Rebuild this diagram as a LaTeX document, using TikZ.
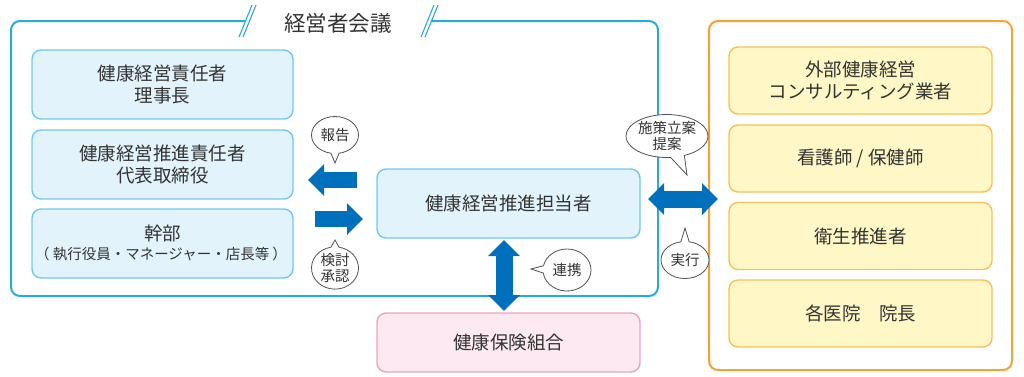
\documentclass[tikz,border=0pt]{standalone}
\usepackage{fontspec}
\setmainfont{Noto Sans CJK JP}
\usetikzlibrary{arrows.meta,shapes.callouts}
\definecolor{frameblue}{RGB}{41,169,225}
\definecolor{boxblue}{RGB}{112,200,240}
\definecolor{fillblue}{RGB}{226,243,252}
\definecolor{frameorange}{RGB}{245,162,52}
\definecolor{boxyellow}{RGB}{248,192,84}
\definecolor{fillyellow}{RGB}{255,248,198}
\definecolor{boxpink}{RGB}{236,164,188}
\definecolor{fillpink}{RGB}{252,233,241}
\definecolor{arrowblue}{RGB}{0,112,188}
\definecolor{txt}{RGB}{51,51,51}
\tikzset{
  bigtext/.style={font=\fontsize{18.5}{22}\selectfont, text=txt, align=center},
  bluebox/.style={bigtext, draw=boxblue, fill=fillblue, line width=1.4pt, rounded corners=9pt, minimum width=261pt, minimum height=69pt, inner sep=0pt},
  yellowbox/.style={bigtext, draw=boxyellow, fill=fillyellow, line width=1.4pt, rounded corners=9pt, minimum width=263pt, minimum height=67pt, inner sep=0pt},
  pinkbox/.style={bigtext, draw=boxpink, fill=fillpink, line width=1.4pt, rounded corners=9pt, minimum width=263pt, minimum height=59pt, inner sep=0pt},
  bubble/.style={ellipse callout, draw=txt!85, fill=white, line width=0.8pt, text=txt, align=center, inner sep=0pt, font=\fontsize{14.5}{16.5}\selectfont, callout pointer arc=20},
  fatarrow/.style={draw=arrowblue, line width=16pt, -{Triangle[length=16pt,width=31pt]}},
  fatdouble/.style={draw=arrowblue, line width=17pt, {Triangle[length=16pt,width=31pt]}-{Triangle[length=16pt,width=31pt]}},
  frame/.style={line width=2pt, rounded corners=9pt},
  slash/.style={draw=frameblue, line width=1.1pt}
}
\begin{document}
\begin{tikzpicture}[x=1pt,y=-1pt]
\useasboundingbox (0,0) rectangle (1024,376);
% blue frame
\draw[frame, draw=frameblue] (245,21) -- (11,21) -- (11,296) -- (658,296) -- (658,21) -- (431,21);
\draw[slash] (239,37) -- (252,5);
\draw[slash] (243,37) -- (256,5);
\draw[slash] (421,37) -- (434,5);
\draw[slash] (425,37) -- (438,5);
\node[font=\fontsize{21.5}{24}\selectfont, text=txt] (title) at (338,23) {経営者会議};
% orange frame
\draw[frame, draw=frameorange] (709,21) rectangle (1012,370);
% left boxes
\node[bluebox] (b1) at (162.5,84.5) {健康経営責任者\\理事長};
\node[bluebox] (b2) at (162.5,164.5) {健康経営推進責任者\\代表取締役};
\node[bluebox] (b3) at (162.5,243.5) {};
\node[bigtext] (b3a) at (162.5,233) {幹部};
\node[font=\fontsize{14.5}{16}\selectfont, text=txt] (b3b) at (161,254) {（ 執行役員・マネージャー・店長等 ）};
% center boxes
\node[bluebox, minimum width=263pt] (c) at (508.5,203.5) {健康経営推進担当者};
\node[pinkbox] (p) at (508.5,342.5) {健康保険組合};
% right boxes
\node[yellowbox] (r1) at (860.5,80.5) {外部健康経営\\コンサルティング業者};
\node[yellowbox] (r2) at (860.5,158.5) {看護師 / 保健師};
\node[yellowbox] (r3) at (860.5,236) {衛生推進者};
\node[yellowbox] (r4) at (860.5,313.5) {各医院　院長};
% arrows
\coordinate (la1) at (357,180);
\coordinate (la2) at (308,180);
\coordinate (ra1) at (315,219);
\coordinate (ra2) at (363,219);
\coordinate (ha1) at (648,199);
\coordinate (ha2) at (718,199);
\coordinate (va1) at (504,240);
\coordinate (va2) at (504,311);
\draw[fatarrow] (la1) -- (la2);
\draw[fatarrow] (ra1) -- (ra2);
\draw[fatdouble] (ha1) -- (ha2);
\draw[fatdouble] (va1) -- (va2);
% bubbles
\node[bubble, minimum width=47pt, minimum height=37pt, callout absolute pointer={(335,163)}] (hk) at (335,135) {報告};
\node[bubble, minimum width=47pt, minimum height=39pt, callout absolute pointer={(335,240)}] (ks) at (335,268) {検討\\承認};
\node[bubble, minimum width=74pt, minimum height=43pt, callout absolute pointer={(687,175)}] (ss) at (667,136) {施策立案\\提案};
\node[bubble, minimum width=48pt, minimum height=37pt, callout absolute pointer={(685,228)}] (jk) at (685,260) {実行};
\node[bubble, minimum width=48pt, minimum height=42pt, callout absolute pointer={(531,269)}] (rk) at (567,270) {連携};
\end{tikzpicture}
\end{document}
